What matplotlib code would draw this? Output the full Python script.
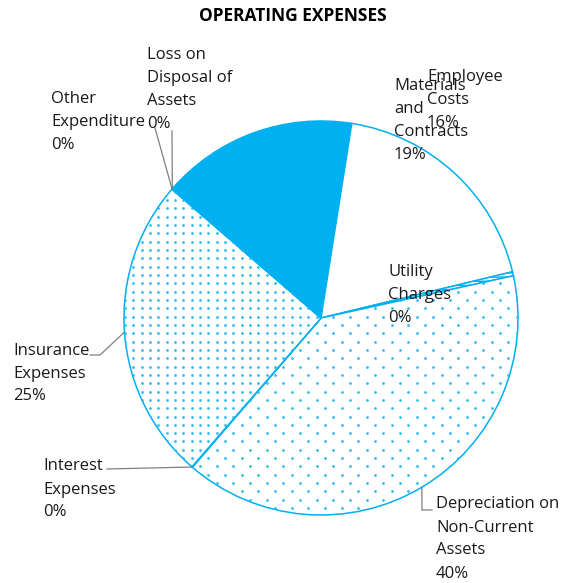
import numpy as np
import matplotlib.pyplot as plt

plt.rcParams['font.family'] = ['Open Sans', 'DejaVu Sans']

categories = ['Employee Costs', 'Materials and Contracts', 'Utility Charges',
              'Depreciation on Non-Current Assets', 'Interest Expenses',
              'Insurance Expenses', 'Other Expenditure', 'Loss on Disposal of Assets']
values = [16.1, 18.75, 0.33, 39.8, 0.05, 25.0, 0.02, 0.05]
label_lines = [['Employee', 'Costs'],
               ['Materials', 'and', 'Contracts'],
               ['Utility', 'Charges'],
               ['Depreciation on', 'Non-Current', 'Assets'],
               ['Interest', 'Expenses'],
               ['Insurance', 'Expenses'],
               ['Other', 'Expenditure'],
               ['Loss on', 'Disposal of', 'Assets']]

BLUE = '#00B0F0'
W, H = 570, 583
CX, CY, R = 321, 318, 197


def px(x, y):
    return (x - CX) / R, (CY - y) / R


fig = plt.figure(figsize=(W / 100, H / 100), dpi=100)
ax = fig.add_axes([0, 0, 1, 1])

faces = [BLUE, 'white', 'white', 'white', 'white', 'white', 'white', 'white']
wedges, _ = ax.pie(values, startangle=138.9, counterclock=False, colors=faces,
                   wedgeprops=dict(edgecolor=BLUE, linewidth=1.1))
wedges[2].set_hatch('----')

ax.set_xlim(-CX / R, (W - CX) / R)
ax.set_ylim((CY - H) / R, CY / R)
ax.set_aspect('equal')
ax.axis('off')


# dot patterns, clipped to their slices
def dots(wedge, dx, dy, stagger):
    pts = []
    for j, y in enumerate(np.arange(0, H, dy)):
        off = dx / 2 if (stagger and j % 2) else 0
        for x in np.arange(off, W, dx):
            pts.append(px(x, y))
    pts = np.array(pts)
    sc = ax.scatter(pts[:, 0], pts[:, 1], s=4, color='#30BBF2', lw=0, zorder=3)
    sc.set_clip_path(wedge)


dots(wedges[5], 8.33, 8.33, False)
dots(wedges[3], 16.67, 8.33, True)

# label placement (left px, first line centre px), elbow points of leaders
label_pos = [(427, 75), (394, 84), (388, 270), (436, 503),
             (43, 465), (13, 349), (51, 97), (147, 53)]
leaders = {3: [(422, 510), (432, 510)],
           4: [(107, 469)],
           5: [(100, 355), (90, 355)],
           6: [(155, 128)],
           7: [(172, 131)]}

total = sum(values)
for i, (lines, (lx, ly)) in enumerate(zip(label_lines, label_pos)):
    txt = lines + ['%d%%' % round(values[i] / total * 100)]
    for k, t in enumerate(txt):
        ax.text(*px(lx, ly + k * 23 + 5.5), t, ha='left', va='baseline',
                fontsize=12, color='#1a1a1a', zorder=5)
    if i in leaders:
        w = wedges[i]
        mid = np.deg2rad((w.theta1 + w.theta2) / 2)
        xs = [np.cos(mid)] + [px(*p)[0] for p in leaders[i]]
        ys = [np.sin(mid)] + [px(*p)[1] for p in leaders[i]]
        ax.plot(xs, ys, color='#808080', lw=0.9, zorder=4)

fig.text(293 / W, 1 - 16 / H, 'OPERATING EXPENSES', ha='center', va='center',
         fontsize=12.5, fontweight='bold')

fig.savefig('out.png', dpi=100)
